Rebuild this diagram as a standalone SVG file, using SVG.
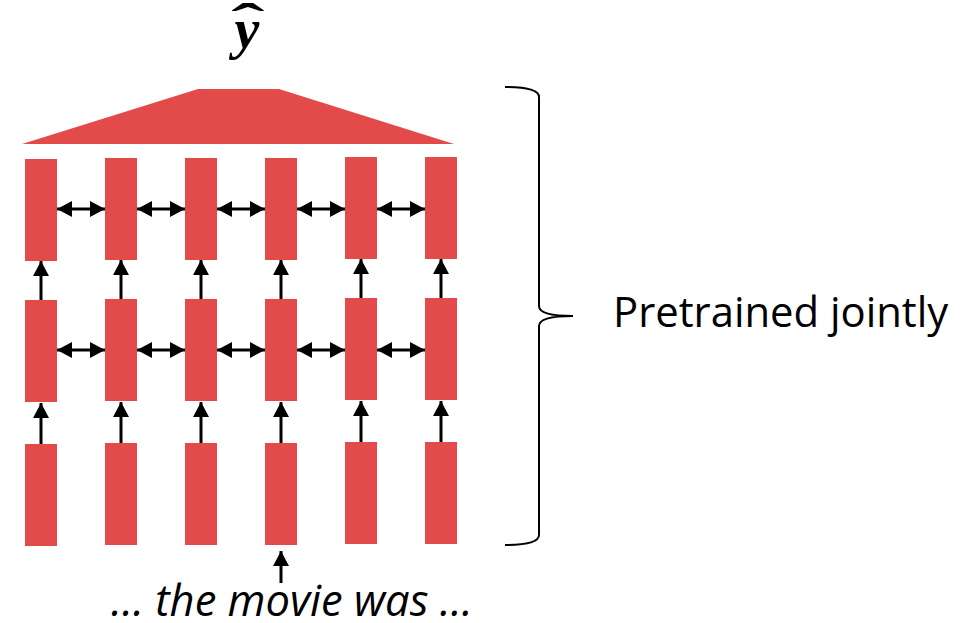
<svg xmlns="http://www.w3.org/2000/svg" width="978" height="623" viewBox="0 0 978 623">
<defs>
<style>
.blk{fill:#E34B4B}
.ar{stroke:#000;stroke-width:3;fill:none}
.lbl{font-family:"Open Sans","Liberation Sans",sans-serif;fill:#000}
</style>
<marker id="ah" markerUnits="userSpaceOnUse" markerWidth="16" markerHeight="16" viewBox="0 0 15 16" refX="15" refY="8" orient="auto-start-reverse">
<path d="M0,0 L15,8 L0,16 z" fill="#000"/>
</marker>
</defs>
<rect width="978" height="623" fill="#fff"/>
<g id="output-head">
<polygon class="blk" points="22,144 198,89 279,89 454,144"/>
<text x="247" y="48" text-anchor="middle" font-family="'Liberation Serif',serif" font-weight="bold" font-style="italic" font-size="56">y</text>
<text x="0" y="0" text-anchor="middle" font-family="'Liberation Serif',serif" font-weight="bold" font-size="50" transform="translate(248,39) scale(2,1)">ˆ</text>
</g>
<g id="col1"><rect class="blk" x="25" y="159" width="32" height="102"/><rect class="blk" x="25" y="300" width="32" height="102"/><rect class="blk" x="25" y="444" width="32" height="102"/></g>
<g id="col2"><rect class="blk" x="105" y="158" width="32" height="102"/><rect class="blk" x="105" y="299" width="32" height="102"/><rect class="blk" x="105" y="443" width="32" height="102"/></g>
<g id="col3"><rect class="blk" x="185" y="158" width="32" height="102"/><rect class="blk" x="185" y="299" width="32" height="102"/><rect class="blk" x="185" y="443" width="32" height="102"/></g>
<g id="col4"><rect class="blk" x="265" y="158" width="32" height="102"/><rect class="blk" x="265" y="299" width="32" height="102"/><rect class="blk" x="265" y="443" width="32" height="102"/></g>
<g id="col5"><rect class="blk" x="345" y="157" width="32" height="102"/><rect class="blk" x="345" y="298" width="32" height="102"/><rect class="blk" x="345" y="442" width="32" height="102"/></g>
<g id="col6"><rect class="blk" x="425" y="157" width="32" height="102"/><rect class="blk" x="425" y="298" width="32" height="102"/><rect class="blk" x="425" y="442" width="32" height="102"/></g>
<g id="connectors">
<g marker-start="url(#ah)" marker-end="url(#ah)">
<line class="ar" x1="57" y1="209" x2="105" y2="209"/>
<line class="ar" x1="137" y1="209" x2="185" y2="209"/>
<line class="ar" x1="217" y1="209" x2="265" y2="209"/>
<line class="ar" x1="297" y1="209" x2="345" y2="209"/>
<line class="ar" x1="377" y1="209" x2="425" y2="209"/>
<line class="ar" x1="57" y1="350" x2="105" y2="350"/>
<line class="ar" x1="137" y1="350" x2="185" y2="350"/>
<line class="ar" x1="217" y1="350" x2="265" y2="350"/>
<line class="ar" x1="297" y1="350" x2="345" y2="350"/>
<line class="ar" x1="377" y1="350" x2="425" y2="350"/>
</g>
<g marker-end="url(#ah)">
<line class="ar" x1="41" y1="300" x2="41" y2="261"/>
<line class="ar" x1="121" y1="299" x2="121" y2="260"/>
<line class="ar" x1="201" y1="299" x2="201" y2="260"/>
<line class="ar" x1="281" y1="299" x2="281" y2="260"/>
<line class="ar" x1="361" y1="298" x2="361" y2="259"/>
<line class="ar" x1="441" y1="298" x2="441" y2="259"/>
<line class="ar" x1="41" y1="444" x2="41" y2="403"/>
<line class="ar" x1="121" y1="443" x2="121" y2="402"/>
<line class="ar" x1="201" y1="443" x2="201" y2="402"/>
<line class="ar" x1="281" y1="443" x2="281" y2="402"/>
<line class="ar" x1="361" y1="442" x2="361" y2="401"/>
<line class="ar" x1="441" y1="442" x2="441" y2="401"/>
<line class="ar" x1="281" y1="583" x2="281" y2="551"/>
</g>
</g>
<g id="brace">
<path d="M505,87 Q539,87 539,97 L539,306 Q539,316 573,316 Q539,316 539,326 L539,535 Q539,545 505,545" fill="none" stroke="#000" stroke-width="2"/>
<text class="lbl" x="613" y="327" font-size="41.8">Pretrained jointly</text>
</g>
<g id="input-text">
<text class="lbl" x="111" y="616" font-size="43.5" font-style="italic">… the movie was …</text>
</g>
</svg>
